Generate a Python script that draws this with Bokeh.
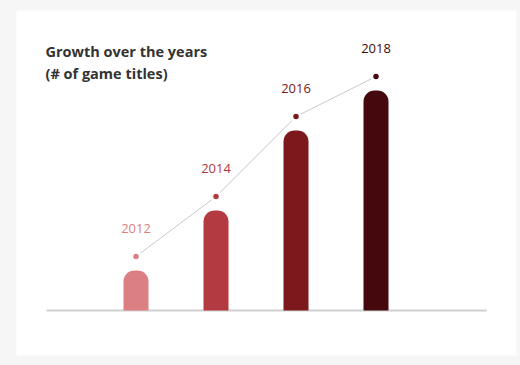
from bokeh.plotting import figure
from bokeh.models import Range1d, ColumnDataSource, GlobalInlineStyleSheet
from bokeh.core.properties import value
from bokeh.embed import file_html
from bokeh.resources import INLINE

# ---- data ----
years = ["2012", "2014", "2016", "2018"]
titles = [2, 5, 9, 11]          # growth (# of game titles, relative)
colors = ["#dc7f83", "#b23a40", "#7d181d", "#45080c"]
title_lines = ["Growth over the years", "(# of game titles)"]

W, H = 520, 365
ML, MR, MT, MB = 16, 4, 10, 10
FW, FH = W - ML - MR, H - MT - MB
PX_X, PX_Y = 80.0, 20.0
x0 = -119.5 / PX_X
y0 = -45.0 / PX_Y

def dx(px):  # frame px from left -> data
    return x0 + px / PX_X

def dy(px_from_top):  # frame px from top -> data
    return y0 + (FH - px_from_top) / PX_Y

p = figure(width=W, height=H, output_backend="svg", toolbar_location=None,
           x_range=Range1d(x0, x0 + FW / PX_X), y_range=Range1d(y0, y0 + FH / PX_Y),
           x_axis_type=None, y_axis_type=None,
           min_border_left=ML, min_border_right=MR, min_border_top=MT, min_border_bottom=MB)
p.border_fill_color = "#f6f6f6"
p.background_fill_color = "#ffffff"
p.outline_line_color = None
p.grid.visible = False
p.stylesheets = [GlobalInlineStyleSheet(css="body{background:#f6f6f6;}")]

xs = list(range(len(years)))
dot_y = [v + 14 / PX_Y for v in titles]
lab_y = [v + 42 / PX_Y for v in titles]
src = ColumnDataSource(dict(x=xs, top=titles, color=colors, year=years, dot_y=dot_y, lab_y=lab_y))

# baseline
p.segment(x0=[dx(30)], y0=[0], x1=[dx(470)], y1=[0], line_color="#d0d0d0", line_width=2)

# bars
p.vbar(x="x", top="top", bottom=0, width=25 / PX_X, fill_color="color", line_color=None,
       border_radius=(11, 11, 0, 0), source=src)

# connecting line with gaps at dots
p.line(x="x", y="dot_y", line_color="#c8c8c8", line_width=1, source=src)
p.scatter(x="x", y="dot_y", size=11, fill_color="white", line_color=None, source=src)
p.scatter(x="x", y="dot_y", size=5.5, fill_color="color", line_color=None, source=src)

# year labels
p.text(x="x", y="lab_y", text="year", text_color="color", text_align="center",
       text_baseline="middle", text_font=value("Open Sans"), text_font_size="13px", source=src)

# title
p.text(x=[dx(29), dx(29)], y=[dy(41), dy(63)], text=title_lines, text_color="#333333",
       text_font=value("Open Sans"), text_font_style="bold", text_font_size="14.5px",
       text_baseline="alphabetic", text_align="left")

open("out.html", "w").write(file_html(p, INLINE))
